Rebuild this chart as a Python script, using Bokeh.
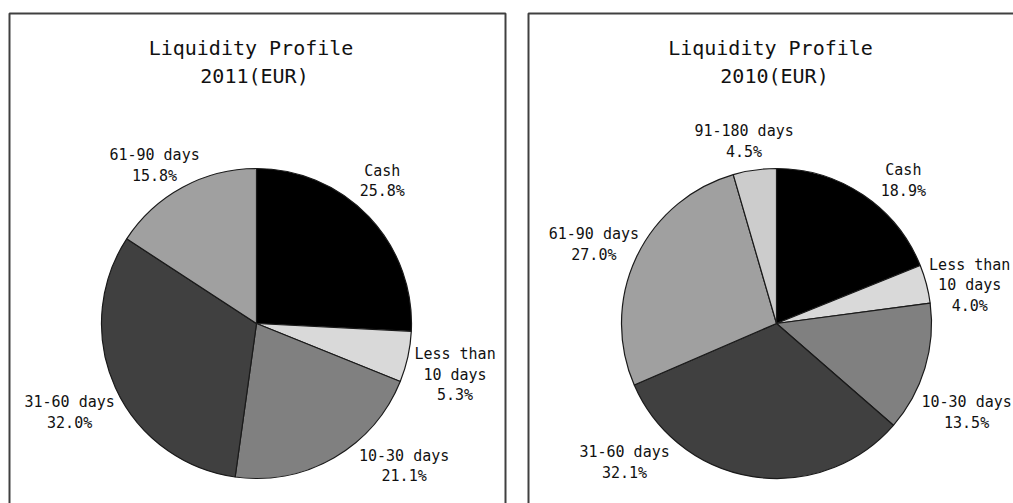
import math
from bokeh.plotting import figure
from bokeh.models import Range1d, ColumnDataSource
from bokeh.core.properties import value
from bokeh.embed import file_html
from bokeh.resources import INLINE

# ---------------- data ----------------
title_main = "Liquidity Profile"
title_2011 = "2011(EUR)"
title_2010 = "2010(EUR)"

categories_2011 = ["Cash", "Less than 10 days", "10-30 days", "31-60 days", "61-90 days"]
values_2011 = [25.8, 5.3, 21.1, 32.0, 15.8]

categories_2010 = ["Cash", "Less than 10 days", "10-30 days", "31-60 days", "61-90 days", "91-180 days"]
values_2010 = [18.9, 4.0, 13.5, 32.1, 27.0, 4.5]

label_lines = {"Less than 10 days": ["Less than", "10 days"]}

# ---------------- styles / layout ----------------
colors = {
    "Cash": "#000000",
    "Less than 10 days": "#d9d9d9",
    "10-30 days": "#808080",
    "31-60 days": "#404040",
    "61-90 days": "#a0a0a0",
    "91-180 days": "#cccccc",
}
FONT = "DejaVu Sans Mono"
W, H = 1013, 503
RADIUS = 155
LINE_H = 20.5

# (angle nudge in degrees, distance from centre) per label
label_layout_2011 = [(-5, 190), (2, 205), (-16, 205), (-1, 207), (-4.4, 188)]
label_layout_2010 = [(7.6, 191), (3.5, 197), (8.4, 210), (38.7, 206), (-1.8, 199), (-2, 185)]

panels = [
    dict(cats=categories_2011, vals=values_2011, layout=label_layout_2011,
         center=(256, 180), title2=title_2011, title_dx=(-5.5, -2),
         box=(9, 505)),
    dict(cats=categories_2010, vals=values_2010, layout=label_layout_2010,
         center=(776, 180), title2=title_2010, title_dx=(-6, -2),
         box=(528, 1060)),
]

p = figure(width=W, height=H, x_range=Range1d(0, W), y_range=Range1d(0, H),
           output_backend="svg", toolbar_location=None, min_border=0)
p.axis.visible = False
p.grid.visible = False
p.outline_line_color = None
p.background_fill_color = "white"

for pn in panels:
    cx, cy = pn["center"]
    # panel frame
    x0, x1 = pn["box"]
    p.quad(left=[x0], right=[x1], bottom=[-30], top=[H - 13],
           fill_color=None, line_color="#404040", line_width=2)

    # wedges
    total = sum(pn["vals"])
    cum = 0.0
    starts, ends, fills = [], [], []
    lx, ly, ltext = [], [], []
    for cat, v, (nudge, dist) in zip(pn["cats"], pn["vals"], pn["layout"]):
        a0 = cum / total
        a1 = (cum + v) / total
        starts.append(math.pi / 2 - 2 * math.pi * a1)
        ends.append(math.pi / 2 - 2 * math.pi * a0)
        fills.append(colors[cat])
        mid = 360 * (a0 + a1) / 2 + nudge
        px = cx + dist * math.sin(math.radians(mid))
        py = cy + dist * math.cos(math.radians(mid))
        lines = label_lines.get(cat, [cat]) + [f"{v:.1f}%"]
        n = len(lines)
        for i, t in enumerate(lines):
            lx.append(px)
            ly.append(py - LINE_H * (i - (n - 1) / 2))
            ltext.append(t)
        cum += v

    src = ColumnDataSource(dict(x=[cx] * len(starts), y=[cy] * len(starts),
                                s=starts, e=ends, c=fills))
    p.wedge(x="x", y="y", radius=RADIUS, radius_units="screen",
            start_angle="s", end_angle="e", direction="anticlock",
            fill_color="c", line_color="#1a1a1a", line_width=1.2, source=src)

    p.text(x=lx, y=ly, text=ltext, text_font=value(FONT), text_font_size="15px",
           text_align="center", text_baseline="middle", text_color="#111111")

    # titles
    tdx1, tdx2 = pn["title_dx"]
    p.text(x=[cx + tdx1, cx + tdx2], y=[H - 47, H - 75], text=[title_main, pn["title2"]],
           text_font=value(FONT), text_font_size="20px",
           text_align="center", text_baseline="middle", text_color="#111111")

open("out.html", "w").write(file_html(p, INLINE))
